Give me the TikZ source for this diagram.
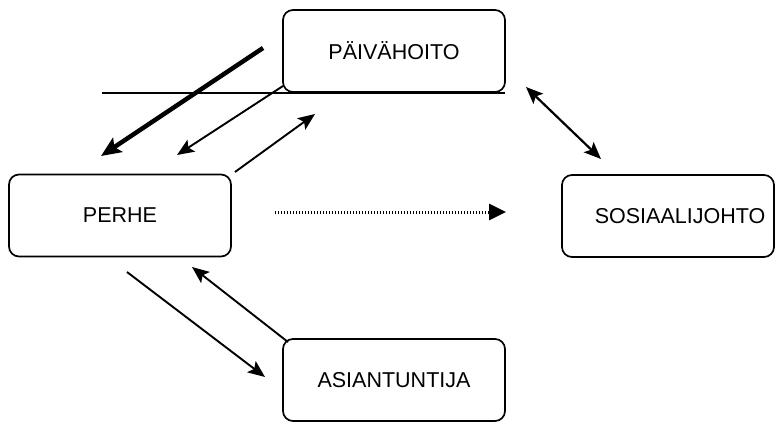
\documentclass[tikz,border=0pt]{standalone}
\usepackage{fontspec}
\setmainfont{Liberation Sans}
\usetikzlibrary{arrows.meta}
\begin{document}
\begin{tikzpicture}[x=1pt,y=-1pt,
  box/.style={draw, line width=1.7pt, rounded corners=10pt, minimum width=222pt, minimum height=82pt, inner sep=0pt, font=\fontsize{21.5}{25}\selectfont},
  conn/.style={line width=1.9pt, -{Stealth[length=17pt,width=14pt,inset=3.5pt]}},
  thick conn/.style={line width=4.5pt, -{Stealth[length=20pt,width=17pt,inset=4pt]}},
  both conn/.style={line width=2.2pt, {Stealth[length=17pt,width=14pt,inset=3.5pt]}-{Stealth[length=17pt,width=14pt,inset=3.5pt]}},
  dot conn/.style={line width=3pt, dash pattern=on 1.3pt off 1.7pt, -{Triangle[length=17pt,width=16pt]}}]
\useasboundingbox (0,0) rectangle (776,423);
\node[box] (paiv) at (394,51) {PÄIVÄHOITO};
\node[box] (perhe) at (120,215.5) {PERHE};
\node[box, minimum width=212pt, text width=212pt, align=center] (sos) at (668,216) {\hspace*{24pt}SOSIAALIJOHTO};
\node[box] (asi) at (394,380) {ASIANTUNTIJA};
% horizontal line
\coordinate (hl1) at (102,93);
\coordinate (hl2) at (505,93);
\draw[line width=1.6pt] (hl1) -- (hl2);
% arrows
\coordinate (a1s) at (263,48); \coordinate (a1e) at (101,156);
\draw[thick conn] (a1s) -- (a1e);
\coordinate (a2s) at (283,86); \coordinate (a2e) at (177,155);
\draw[conn] (a2s) -- (a2e);
\coordinate (a3s) at (235,172); \coordinate (a3e) at (315,114);
\draw[conn] (a3s) -- (a3e);
\coordinate (a4s) at (275,212); \coordinate (a4e) at (506,212);
\draw[dot conn] (a4s) -- (a4e);
\coordinate (a5s) at (526,87); \coordinate (a5e) at (601,159);
\draw[both conn] (a5s) -- (a5e);
\coordinate (a6s) at (127,272); \coordinate (a6e) at (265,377);
\draw[conn] (a6s) -- (a6e);
\coordinate (a7s) at (288,342); \coordinate (a7e) at (192,267);
\draw[conn] (a7s) -- (a7e);
\end{tikzpicture}
\end{document}
